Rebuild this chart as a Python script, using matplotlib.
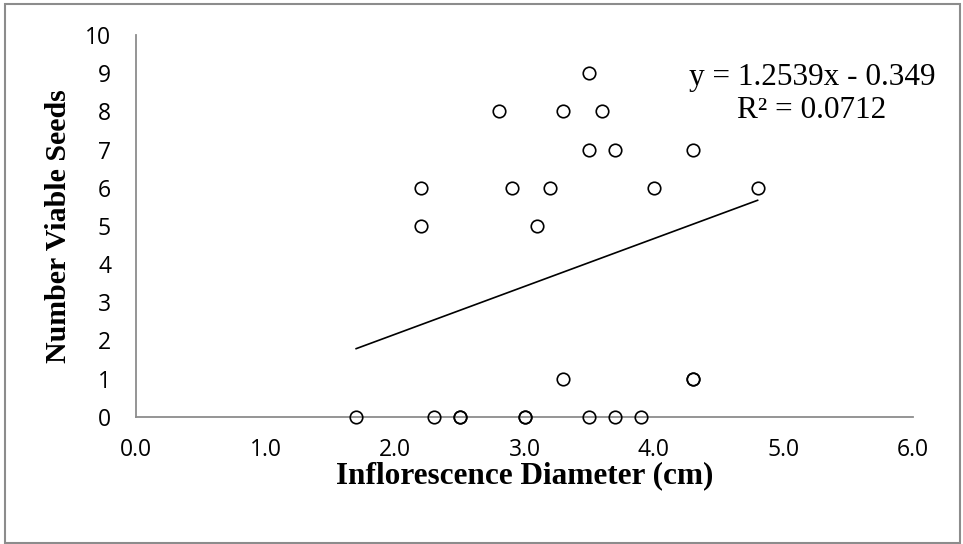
import matplotlib
matplotlib.use("Agg")
import matplotlib.pyplot as plt
from matplotlib.patches import Rectangle
import numpy as np

# points (diameter in cm, viable seed count)
diameter = [1.7, 2.3, 2.5, 2.5, 3.0, 3.0, 3.5, 3.7, 3.9,
            3.3, 4.3, 4.3,
            2.2, 3.1,
            2.2, 2.9, 3.2, 4.0, 4.8,
            3.5, 3.7, 4.3,
            2.8, 3.3, 3.6,
            3.5]
seeds = [0, 0, 0, 0, 0, 0, 0, 0, 0,
         1, 1, 1,
         5, 5,
         6, 6, 6, 6, 6,
         7, 7, 7,
         8, 8, 8,
         9]

# trendline as printed on the chart
SLOPE = 1.2539
INTERCEPT = -0.349
R2 = 0.0712

x_ticks = [0, 1, 2, 3, 4, 5, 6]
y_ticks = list(range(0, 11))

W, H = 963, 544
fig = plt.figure(figsize=(W / 100, H / 100), dpi=100)
ax = fig.add_axes([136 / W, 1 - 416.7 / H, (913 - 136) / W, (416.7 - 35) / H])

ax.plot(diameter, seeds, linestyle="none", marker="o", markersize=9,
        markerfacecolor="none", markeredgecolor="black", markeredgewidth=1.2,
        zorder=3, clip_on=False)

xs = np.array([min(diameter), max(diameter)])
ax.plot(xs, SLOPE * xs + INTERCEPT, color="black", linewidth=1.2)

ax.set_xlim(0, 6)
ax.set_ylim(0, 10)
ax.set_xticks(x_ticks)
ax.set_xticklabels([f"{t:.1f}" for t in x_ticks])
ax.set_yticks(y_ticks)

for lab in ax.get_xticklabels() + ax.get_yticklabels():
    lab.set_fontfamily("Open Sans")
    lab.set_fontsize(16.5)
ax.tick_params(axis="both", length=0)
ax.tick_params(axis="y", pad=18)
ax.tick_params(axis="x", pad=15)

for side in ["top", "right"]:
    ax.spines[side].set_visible(False)
for side in ["left", "bottom"]:
    ax.spines[side].set_color("#8c8c8c")
    ax.spines[side].set_linewidth(1.3)

ax.set_xlabel("Inflorescence Diameter (cm)", family="Liberation Serif",
              weight="bold", size=22.5, labelpad=0)
ax.set_ylabel("Number Viable Seeds", family="Liberation Serif",
              weight="bold", size=21.5, labelpad=9)

sign = "-" if INTERCEPT < 0 else "+"
eq = f"y = {SLOPE}x {sign} {abs(INTERCEPT)}\nR\u00b2 = {R2}"
fig.text(812 / W, 1 - 94 / H, eq, family="Liberation Serif", size=22.5,
         ha="center", va="center", linespacing=1.15)

# outer chart frame
fig.patches.append(Rectangle((5 / W, 1 / H), (960 - 5) / W, (539) / H,
                             transform=fig.transFigure, fill=False,
                             edgecolor="#8c8c8c", linewidth=1.5))

fig.savefig("out.png", dpi=100)
